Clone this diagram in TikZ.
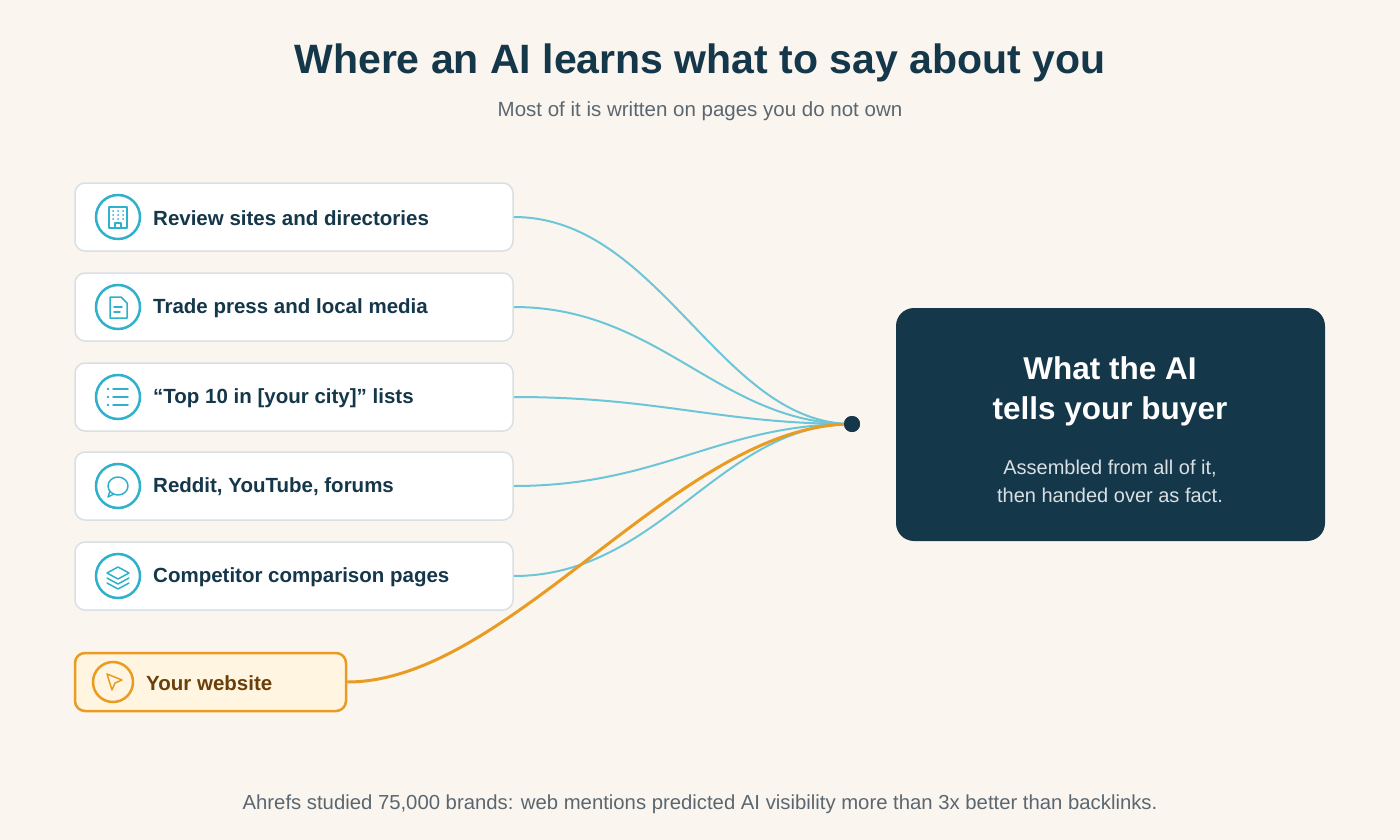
\documentclass[tikz,border=0pt]{standalone}
\usepackage{fontspec}
\setmainfont{Liberation Sans}
\begin{document}
\definecolor{bg}{HTML}{FAF5EE}
\definecolor{navy}{HTML}{15374A}
\definecolor{gray}{HTML}{5B6770}
\definecolor{teal}{HTML}{2FB0CC}
\definecolor{line}{HTML}{6CC6D8}
\definecolor{bord}{HTML}{D9E0E4}
\definecolor{org}{HTML}{E99B22}
\definecolor{orgfill}{HTML}{FFF5E1}
\definecolor{brown}{HTML}{6B3F0A}
\begin{tikzpicture}[x=1pt,y=-1pt,
 card/.style={draw=bord,line width=1.5pt,fill=white,rounded corners=10pt,minimum width=438pt,minimum height=68pt,inner sep=0},
 ic/.style={circle,draw=teal,line width=2.5pt,minimum size=44pt,inner sep=0},
 lbl/.style={anchor=west,font=\fontsize{20.5}{24}\selectfont\bfseries,text=navy,inner sep=0},
 conn/.style={draw=line,line width=2pt},
 glyph/.style={draw=teal,line width=1.5pt,line cap=round,line join=round}]
\fill[bg] (0,0) rectangle (1400,840);
\useasboundingbox (0,0) rectangle (1400,840);
\node[font=\fontsize{41}{46}\selectfont\bfseries,text=navy] (title) at (700,63) {Where an AI learns what to say about you};
\node[font=\fontsize{20.5}{24}\selectfont,text=gray] (sub) at (700,111) {Most of it is written on pages you do not own};
\node[circle,fill=navy,minimum size=16pt,inner sep=0] (hub) at (852,424) {};
\foreach \i/\y/\t in {1/217/Review sites and directories,2/307/Trade press and local media,3/397/“Top 10 in [your city]” lists,4/486/{Reddit, YouTube, forums},5/576/Competitor comparison pages}{
 \node[card] (c\i) at (294,\y) {};
 \node[ic] (i\i) at (118,\y) {};
 \node[lbl] (l\i) at (153,\y+1) {\t};
 \draw[conn] (c\i.east) .. controls (660,\y) and (720,424) .. (hub.center);
}
% icons
\draw[glyph] (109,207) rectangle (127,228); \foreach \a in {113,118,123}{\foreach \b in {211,215,219}{\fill[teal] (\a,\b) circle (1pt);}} \draw[glyph] (115,228) -- (115,223) -- (121,223) -- (121,228);
\draw[glyph] (110,297) -- (121,297) -- (127,303) -- (127,318) -- (110,318) -- cycle; \draw[glyph] (114,307)--(122,307) (114,312)--(120,312);
\foreach \b in {389,397,405}{\fill[teal] (108,\b) circle (1.3pt); \draw[glyph] (113,\b)--(128,\b);}
\draw[glyph] (118,486) ellipse (10pt and 9pt); \draw[glyph] (110,491) -- (108,497) -- (114,494);
\draw[glyph] (118,567) -- (129,573) -- (118,579) -- (107,573) -- cycle; \draw[glyph] (107,578) -- (118,584) -- (129,578); \draw[glyph] (107,583) -- (118,589) -- (129,583);
% website
\node[draw=org,fill=orgfill,line width=2.5pt,rounded corners=10pt,minimum width=271pt,minimum height=58pt,inner sep=0] (web) at (210.5,682) {};
\node[circle,draw=org,line width=2.5pt,minimum size=40pt,inner sep=0] (wi) at (113,682) {};
\draw[draw=org,line width=1.5pt,line join=round] (107,674) -- (122,680) -- (115,683) -- (112,690) -- cycle;
\node[lbl,text=brown] (wl) at (146,683) {Your website};
\draw[draw=org,line width=3pt] (web.east) .. controls (510,682) and (680,424) .. (hub.center);
\fill[navy] (hub) circle (8pt);
% box
\node[fill=navy,rounded corners=18pt,minimum width=429pt,minimum height=233pt,inner sep=0] (box) at (1110.5,424.5) {};
\node[font=\fontsize{31.5}{40}\selectfont\bfseries,text=white,align=center] (bt) at (1110,391) {What the AI\\tells your buyer};
\node[font=\fontsize{20}{28}\selectfont,text=bord,align=center] (bs) at (1110,481) {Assembled from all of it,\\then handed over as fact.};
\node[font=\fontsize{20.3}{22}\selectfont,text=gray] (foot) at (700,804) {Ahrefs studied 75,000 brands: web mentions predicted AI visibility more than 3x better than backlinks.};
\end{tikzpicture}
\end{document}
